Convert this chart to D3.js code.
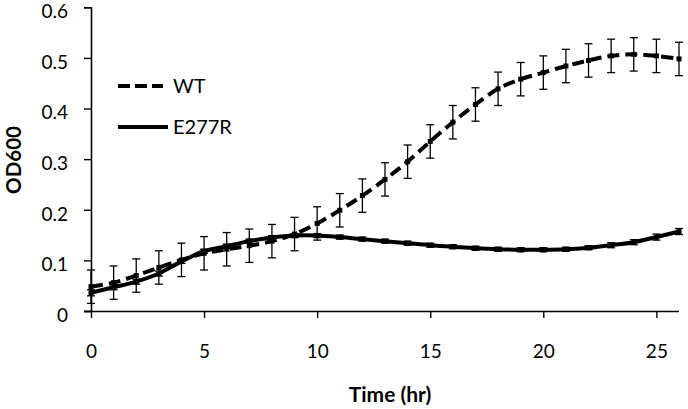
<!DOCTYPE html>
<html>
<head>
<meta charset="utf-8">
<script src="https://cdn.jsdelivr.net/npm/d3@7"></script>
<style>
  html, body { margin: 0; padding: 0; background: #fff; }
  svg { display: block; }
  text { font-family: Lato, "Open Sans", sans-serif; fill: #000; }
</style>
</head>
<body>
<svg id="chart" width="688" height="409"></svg>
<script>
// ---- data ----
const hours = [0,1,2,3,4,5,6,7,8,9,10,11,12,13,14,15,16,17,18,19,20,21,22,23,24,25,26];
const wtMean = [0.048,0.056,0.070,0.086,0.101,0.114,0.122,0.129,0.138,0.152,0.173,0.199,0.228,0.260,0.295,0.335,0.373,0.408,0.439,0.458,0.471,0.484,0.495,0.504,0.507,0.504,0.498];
const wtErr  = [0.033,0.033,0.033,0.033,0.033,0.033,0.033,0.033,0.033,0.033,0.033,0.033,0.033,0.033,0.033,0.033,0.033,0.033,0.033,0.033,0.033,0.033,0.033,0.033,0.033,0.033,0.033];
const mutMean = [0.036,0.047,0.058,0.074,0.098,0.118,0.128,0.138,0.145,0.149,0.149,0.146,0.142,0.138,0.134,0.130,0.127,0.124,0.122,0.121,0.121,0.122,0.125,0.130,0.136,0.146,0.157];
const mutErr  = [0.006,0.005,0.005,0.005,0.004,0.004,0.004,0.004,0.004,0.004,0.004,0.004,0.004,0.004,0.004,0.004,0.004,0.004,0.004,0.004,0.004,0.004,0.004,0.005,0.005,0.006,0.006];
const xTicks = [0,5,10,15,20,25];
const yTicks = [0,0.1,0.2,0.3,0.4,0.5,0.6];
const seriesNames = ["WT","E277R"];

const svg = d3.select("#chart");
const x = d3.scaleLinear().domain([0,26]).range([91,679]);
const y = d3.scaleLinear().domain([0,0.6]).range([311,7.3]);

// axes
const yAxis = d3.axisLeft(y).tickValues(yTicks).tickSizeOuter(0).tickSize(7).tickPadding(16)
  .tickFormat(d => d === 0 ? "0" : d3.format(".1f")(d));
const gy = svg.append("g").attr("transform","translate(91,0)").call(yAxis);
const xAxis = d3.axisBottom(x).tickValues(xTicks).tickSizeOuter(0).tickSize(7).tickPadding(20);
const gx = svg.append("g").attr("transform","translate(0,311)").call(xAxis);
[gx, gy].forEach(g => {
  g.select(".domain").attr("stroke","#000").attr("stroke-width",1.6);
  g.selectAll(".tick line").attr("stroke","#000").attr("stroke-width",1.4);
  g.selectAll(".tick text").attr("font-size","19px").attr("font-family","Lato, sans-serif").attr("fill","#000");
});
gy.selectAll(".tick text").attr("dy","0.55em");
gx.selectAll(".tick text").attr("dy",null).attr("y",null).attr("transform","translate(0,46.7)");
gx.select(".domain").attr("d","M84,0.5H679");

// axis titles
svg.append("text").attr("x",390).attr("y",402).attr("text-anchor","middle")
  .attr("font-size","21px").attr("font-weight","bold").text("Time (hr)");
svg.append("text").attr("transform","translate(21,160) rotate(-90)").attr("text-anchor","middle")
  .attr("font-size","20.5px").attr("font-weight","bold").text("OD600");

const line = d3.line().x((d,i)=>x(hours[i])).y(d=>y(d)).curve(d3.curveCatmullRom.alpha(0.5));

function drawSeries(mean, err, dashed) {
  const g = svg.append("g");
  mean.forEach((m,i) => {
    const cx = x(hours[i]);
    const y1 = y(m+err[i]), y2 = y(m-err[i]);
    g.append("line").attr("x1",cx).attr("x2",cx).attr("y1",y1).attr("y2",y2).attr("stroke","#000").attr("stroke-width",1.3);
    g.append("line").attr("x1",cx-4).attr("x2",cx+4).attr("y1",y1).attr("y2",y1).attr("stroke","#000").attr("stroke-width",1.3);
    g.append("line").attr("x1",cx-4).attr("x2",cx+4).attr("y1",y2).attr("y2",y2).attr("stroke","#000").attr("stroke-width",1.3);
  });
  g.append("path").attr("d",line(mean)).attr("fill","none").attr("stroke","#000")
    .attr("stroke-width",4).attr("stroke-dasharray",dashed?"12,6":null);
  g.selectAll("rect").data(mean).enter().append("rect")
    .attr("x",(d,i)=>x(hours[i])-2.5).attr("y",d=>y(d)-2.5).attr("width",5).attr("height",5).attr("fill","#000");
}
drawSeries(mutMean, mutErr, false);
drawSeries(wtMean, wtErr, true);

// legend
const legend = svg.append("g");
legend.append("line").attr("x1",118).attr("x2",163).attr("y1",86).attr("y2",86)
  .attr("stroke","#000").attr("stroke-width",4).attr("stroke-dasharray","12,5");
legend.append("text").attr("x",173).attr("y",93).attr("font-size","20px").text(seriesNames[0]);
legend.append("line").attr("x1",118).attr("x2",168).attr("y1",127).attr("y2",127)
  .attr("stroke","#000").attr("stroke-width",4);
legend.append("text").attr("x",173).attr("y",134).attr("font-size","20px").text(seriesNames[1]);
</script>
</body>
</html>
